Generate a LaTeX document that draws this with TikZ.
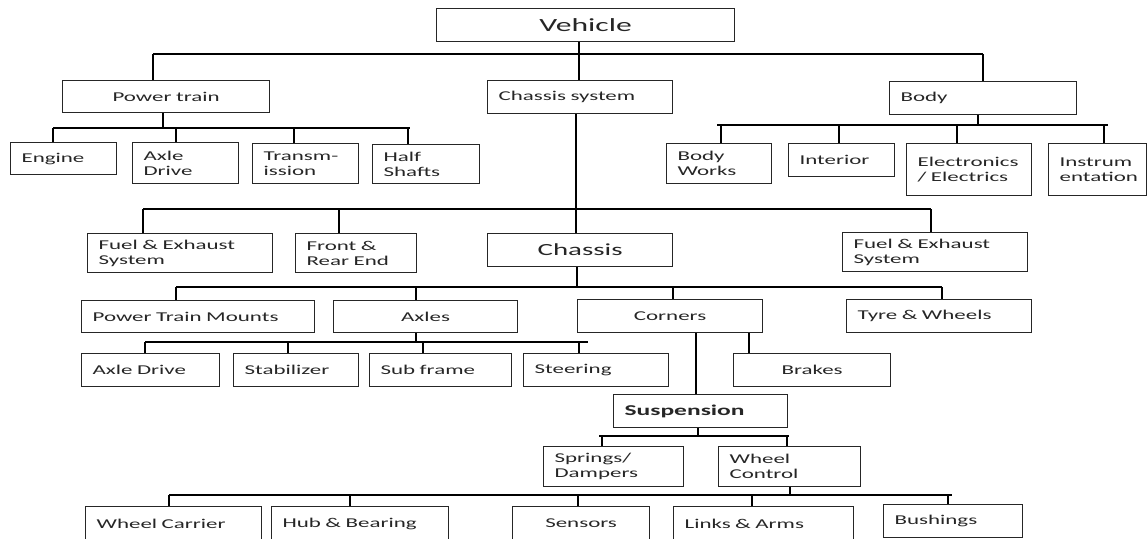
\documentclass[tikz,border=0pt]{standalone}
\usepackage{fontspec}
\setmainfont{Carlito}[FakeStretch=1.7]
\usetikzlibrary{calc}

\tikzset{
  bx/.style={draw=black!85, line width=1.2pt, rectangle, inner xsep=11pt, inner ysep=0pt,
             text=black!85, font=\fontsize{13.5}{15}\selectfont},
  ln/.style={line width=1.2pt, draw=black},
  bigtxt/.style={font=\fontsize{18.6}{20}\selectfont},
  midtxt/.style={font=\fontsize{17}{19}\selectfont},
  boldtxt/.style={font=\fontsize{15}{17}\selectfont\bfseries, inner xsep=10pt},
}

% #1 name, #2 x1, #3 y1, #4 x2, #5 y2, #6 options, #7 text
\newcommand\mkbox[7]{%
  \pgfmathsetmacro\bxw{#4-#2}\pgfmathsetmacro\bxh{#5-#3}\pgfmathsetmacro\bxt{#4-#2-22}%
  \node[bx, anchor=north west, minimum width=\bxw pt, minimum height=\bxh pt,
        text width=\bxt pt, #6] (#1) at (#2,#3) {#7};}
% drop from a bus (x,y) to the top of a node
\newcommand\drop[3]{\draw[ln] (#2,#3) -- (#1.north -| #2,0);}
% rise from the bottom of a node to a bus (x,y)
\newcommand\rise[3]{\draw[ln] (#1.south -| #2,0) -- (#2,#3);}

\begin{document}
\begin{tikzpicture}[x=1pt,y=-1pt]
\useasboundingbox (0,0) rectangle (1147,538);
\clip (0,0) rectangle (1147,538);

% ---------- boxes ----------
\mkbox{veh}{436}{8}{734}{41}{align=center, bigtxt}{Vehicle}

\mkbox{pt}{62}{80}{269}{112}{align=center}{Power train}
\mkbox{cs}{487}{80}{672}{113}{align=left}{Chassis system}
\mkbox{body}{889}{81}{1076}{114}{align=left}{Body}

\mkbox{eng}{10}{142}{116}{174}{align=left}{Engine}
\mkbox{axd}{132}{142}{238}{183}{align=left}{Axle\\Drive}
\mkbox{trm}{252}{143}{358}{183}{align=left}{Transm-\\ission}
\mkbox{hs}{372}{144}{479}{183}{align=left}{Half\\Shafts}

\mkbox{bw}{666}{143}{771}{183}{align=left}{Body\\Works}
\mkbox{int}{788}{143}{894}{176}{align=left}{Interior}
\mkbox{ele}{906}{143}{1031}{195}{align=left}{Electronics\\/ Electrics}
\mkbox{ins}{1048}{143}{1146}{195}{align=left, inner xsep=10pt}{Instrum\\entation}

\mkbox{fel}{87}{233}{272}{272}{align=left}{Fuel \& Exhaust\\System}
\mkbox{fre}{295}{233}{416}{272}{align=left}{Front \&\\Rear End}
\mkbox{ch}{487}{233}{672}{266}{align=center, midtxt}{Chassis}
\mkbox{fer}{842}{232}{1027}{271}{align=left}{Fuel \& Exhaust\\System}

\mkbox{ptm}{81}{300}{314}{332}{align=left}{Power Train Mounts}
\mkbox{axl}{333}{300}{517}{332}{align=center}{Axles}
\mkbox{cor}{577}{299}{762}{332}{align=center}{Corners}
\mkbox{tyr}{846}{299}{1031}{332}{align=left}{Tyre \& Wheels}

\mkbox{axd2}{81}{353}{219}{386}{align=left}{Axle Drive}
\mkbox{stb}{233}{353}{358}{386}{align=left, inner xsep=9pt}{Stabilizer}
\mkbox{sub}{369}{353}{511}{386}{align=left}{Sub frame}
\mkbox{ste}{523}{353}{668}{386}{align=left, inner xsep=9pt}{Steering}
\mkbox{brk}{733}{353}{890}{386}{align=center}{Brakes}

\mkbox{sus}{613}{394}{787}{427}{align=left, boldtxt}{Suspension}

\mkbox{spr}{543}{446}{683}{486}{align=left, inner xsep=10pt}{Springs/\\Dampers}
\mkbox{wc}{718}{446}{860}{486}{align=left}{Wheel\\Control}

\mkbox{wca}{85}{506}{261}{540}{align=left}{Wheel Carrier}
\mkbox{hub}{271}{506}{448}{540}{align=left}{Hub \& Bearing}
\mkbox{sen}{512}{506}{649}{540}{align=center}{Sensors}
\mkbox{lnk}{673}{506}{853}{540}{align=left, inner xsep=10pt}{Links \& Arms}
\mkbox{bsh}{883}{504}{1022}{537}{align=left}{Bushings}

% ---------- connectors ----------
% Vehicle
\rise{veh}{579}{54}
\draw[ln] (153,54) -- (983,54);
\drop{pt}{153}{54}
\drop{cs}{579}{54}
\drop{body}{983}{54}

% Power train
\rise{pt}{163}{128}
\draw[ln] (53,128) -- (410,128);
\drop{eng}{53}{128}
\drop{axd}{176}{128}
\drop{trm}{294}{128}
\drop{hs}{408}{128}

% Body
\rise{body}{978}{125}
\draw[ln] (717,125) -- (1108,125);
\drop{bw}{721}{125}
\drop{int}{839}{125}
\drop{ele}{957}{125}
\drop{ins}{1104}{125}

% Chassis system
\draw[ln] (cs.south -| 576,0) -- (ch.north -| 576,0);
\draw[ln] (143,209) -- (931,209);
\drop{fel}{143}{209}
\drop{fre}{339}{209}
\drop{fer}{931}{209}

% Chassis
\rise{ch}{577}{287}
\draw[ln] (176,287) -- (942,287);
\drop{ptm}{176}{287}
\drop{axl}{416}{287}
\drop{cor}{673}{287}
\drop{tyr}{942}{287}

% Axles
\rise{axl}{416}{342}
\draw[ln] (145,342) -- (588,342);
\drop{axd2}{145}{342}
\drop{stb}{288}{342}
\drop{sub}{423}{342}
\drop{ste}{579}{342}

% Corners
\draw[ln] (cor.south -| 696,0) -- (sus.north -| 696,0);
\draw[ln] (cor.south -| 749,0) -- (brk.north -| 749,0);

% Suspension
\rise{sus}{698}{436}
\draw[ln] (599,436) -- (789,436);
\drop{spr}{602}{436}
\drop{wc}{787}{436}

% Wheel Control
\rise{wc}{790}{495}
\draw[ln] (169,495) -- (952,495);
\drop{wca}{169}{495}
\drop{hub}{350}{495}
\drop{sen}{578}{495}
\drop{lnk}{752}{495}
\drop{bsh}{948}{495}
\end{tikzpicture}
\end{document}
